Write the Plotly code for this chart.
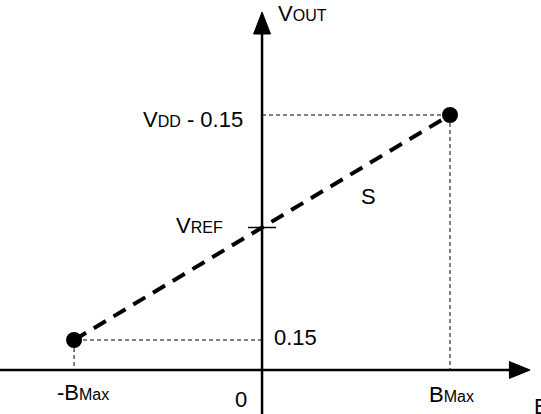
import plotly.graph_objects as go

# Transfer characteristic: output voltage vs. field B (schematic units, B_Max = 1)
b_points = [-1.0, 1.0]
v_low = 0.15
v_high = 1.275          # stands for V_DD - 0.15 on the drawing scale
v_ref = (v_low + v_high) / 2
v_points = [v_low, v_high]

x_min, x_max = -1.394, 1.484
y_min, y_max = -0.22, 1.85
x_tip, y_tip = 1.426, 1.79

FS = 22
SUB = 16
font = dict(family="Liberation Sans, Arial, sans-serif", size=FS, color="black")


def sub(t):
    return f'<span style="font-size:{SUB}px">{t}</span>'


fig = go.Figure()

# thin dashed guides from the end points to the axes
for b, v in zip(b_points, v_points):
    fig.add_trace(go.Scatter(x=[0, b, b], y=[v, v, 0], mode="lines",
                             line=dict(color="black", width=1, dash="4px,3px"),
                             hoverinfo="skip", showlegend=False))

# slope line S with end points
fig.add_trace(go.Scatter(x=b_points, y=v_points, mode="lines",
                         line=dict(color="black", width=4, dash="14px,9px"),
                         hoverinfo="skip", showlegend=False))
fig.add_trace(go.Scatter(x=b_points, y=v_points, mode="markers",
                         marker=dict(color="black", size=16),
                         hoverinfo="skip", showlegend=False))

# axes
fig.add_shape(type="line", x0=x_min, x1=x_tip - 0.08, y0=0, y1=0,
              line=dict(color="black", width=2.5))
fig.add_shape(type="line", x0=0, x1=0, y0=y_min, y1=y_tip - 0.08,
              line=dict(color="black", width=2.5))
fig.add_shape(type="path",
              path=f"M {x_tip} 0 L {x_tip - 0.11} 0.042 L {x_tip - 0.11} -0.042 Z",
              fillcolor="black", line=dict(color="black", width=1))
fig.add_shape(type="path",
              path=f"M 0 {y_tip} L -0.045 {y_tip - 0.11} L 0.045 {y_tip - 0.11} Z",
              fillcolor="black", line=dict(color="black", width=1))
# V_REF tick
fig.add_shape(type="line", x0=-0.075, x1=0.075, y0=v_ref, y1=v_ref,
              line=dict(color="black", width=1.5))

labels = [
    (0.0745, 1.785, "V" + sub("OUT"), "left"),
    (-0.09, 1.255, "V" + sub("DD") + " - 0.15", "right"),
    (-0.197, 0.725, "V" + sub("REF"), "right"),
    (0.564, 0.87, "S", "center"),
    (0.053, 0.165, "0.15", "left"),
    (-1.101, -0.11, "-B" + sub("Max"), "left"),
    (-0.112, -0.145, "0", "center"),
    (0.878, -0.12, "B" + sub("Max"), "left"),
    (1.436, -0.18, "B", "left"),
]
for x, y, t, xa in labels:
    fig.add_annotation(x=x, y=y, text=t, showarrow=False, xanchor=xa, yanchor="middle",
                       font=font)

fig.update_layout(
    width=541, height=414,
    margin=dict(l=0, r=0, t=0, b=0),
    paper_bgcolor="white", plot_bgcolor="white",
    xaxis=dict(range=[x_min, x_max], visible=False, fixedrange=True),
    yaxis=dict(range=[y_min, y_max], visible=False, fixedrange=True),
    showlegend=False,
)

fig.write_html("out.html")
